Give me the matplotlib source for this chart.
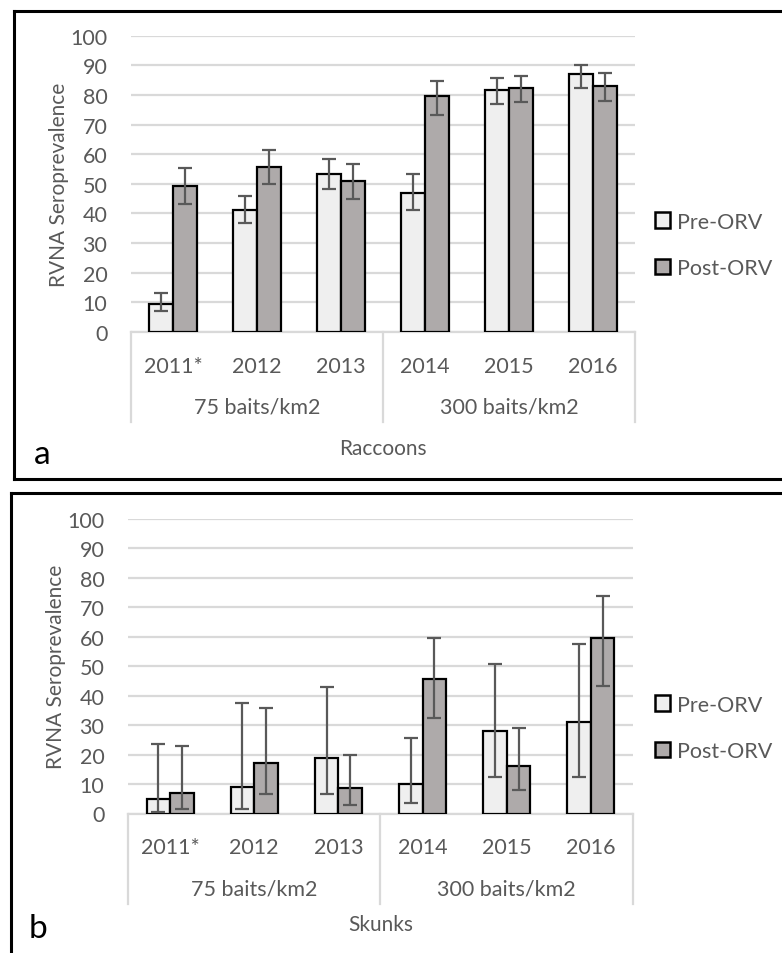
import matplotlib.pyplot as plt
from matplotlib.patches import Patch
from matplotlib.lines import Line2D

plt.rcParams['font.family'] = ['Lato', 'DejaVu Sans']

years = ['2011*', '2012', '2013', '2014', '2015', '2016']
groups = ['75 baits/km2', '300 baits/km2']
series = ['Pre-ORV', 'Post-ORV']

# Raccoons: value, lower error end, upper error end
rac_pre = [9.5, 41.2, 53.3, 47.0, 81.6, 87.0]
rac_pre_lo = [7.0, 36.8, 48.3, 41.2, 76.9, 82.5]
rac_pre_hi = [13.0, 45.9, 58.3, 53.2, 85.6, 90.0]
rac_post = [49.3, 55.7, 50.9, 79.6, 82.3, 83.0]
rac_post_lo = [43.2, 49.9, 44.9, 73.1, 77.6, 77.8]
rac_post_hi = [55.4, 61.3, 56.7, 84.7, 86.3, 87.4]

# Skunks
sk_pre = [5.0, 9.0, 19.0, 10.0, 28.0, 31.0]
sk_pre_lo = [0.5, 1.5, 6.5, 3.5, 12.5, 12.5]
sk_pre_hi = [23.5, 37.6, 43.1, 25.5, 50.9, 57.7]
sk_post = [7.0, 17.0, 8.5, 45.8, 16.0, 59.6]
sk_post_lo = [1.5, 6.5, 3.0, 32.5, 8.0, 43.3]
sk_post_hi = [23.0, 35.8, 20.0, 59.6, 29.0, 73.9]

W, H = 782, 954
fig = plt.figure(figsize=(W / 100, H / 100), dpi=100)

PRE_C = '#efefef'
POST_C = '#aeaaaa'
TXT = '#595959'
GRID = '#d9d9d9'
FS = 15.5


def fx(px):
    return px / W


def fy(py):
    return 1 - py / H


def panel(ax_box, pre, pre_lo, pre_hi, post, post_lo, post_hi, title, letter, letter_xy, title_y, legend_y):
    l, r, top, bot = ax_box
    ax = fig.add_axes([fx(l), fy(bot), fx(r) - fx(l), fy(top) - fy(bot)])
    hpx = bot - top
    x = list(range(len(years)))
    w = 0.28
    xp = [i - w / 2 for i in x]
    xq = [i + w / 2 for i in x]
    ax.bar(xp, pre, w, color=PRE_C, edgecolor='black', linewidth=1.6, zorder=3, label=series[0])
    ax.bar(xq, post, w, color=POST_C, edgecolor='black', linewidth=1.6, zorder=3, label=series[1])
    ax.errorbar(xp, pre, yerr=[[p - lo for p, lo in zip(pre, pre_lo)], [hi - p for p, hi in zip(pre, pre_hi)]],
                fmt='none', ecolor='#595959', elinewidth=1.6, capsize=5, capthick=1.6, zorder=4)
    ax.errorbar(xq, post, yerr=[[p - lo for p, lo in zip(post, post_lo)], [hi - p for p, hi in zip(post, post_hi)]],
                fmt='none', ecolor='#595959', elinewidth=1.6, capsize=5, capthick=1.6, zorder=4)
    ax.set_xlim(-0.5, len(years) - 0.5)
    ax.set_ylim(0, 100)
    ax.set_yticks(range(0, 101, 10))
    ax.yaxis.grid(True, color=GRID, linewidth=1.6, zorder=0)
    ax.tick_params(axis='y', length=0, labelsize=FS, labelcolor=TXT, pad=17)
    ax.set_xticks([])
    for s in ['top', 'right', 'left']:
        ax.spines[s].set_visible(False)
    ax.spines['bottom'].set_color(GRID)
    ax.spines['bottom'].set_linewidth(1.6)
    ax.set_ylabel('RVNA Seroprevalence', fontsize=15, color=TXT, labelpad=1)

    tr = ax.get_xaxis_transform()
    # year labels
    for i, yr in enumerate(years):
        ax.text(i, -34 / hpx, yr, transform=tr, ha='center', va='center', fontsize=FS, color=TXT)
    # group labels and separators
    ax.text(1, -75 / hpx, groups[0], transform=tr, ha='center', va='center', fontsize=FS, color=TXT)
    ax.text(4, -75 / hpx, groups[1], transform=tr, ha='center', va='center', fontsize=FS, color=TXT)
    for xs in [-0.5, 2.5, 5.5]:
        ax.plot([xs, xs], [0, -90 / hpx], transform=tr, color=GRID, linewidth=1.6, clip_on=False)
    ax.text(2.5, -(title_y - bot) / hpx, title, transform=tr, ha='center', va='center', fontsize=15, color=TXT)

    handles = [Patch(facecolor=PRE_C, edgecolor='black', linewidth=1.8),
               Patch(facecolor=POST_C, edgecolor='black', linewidth=1.8)]
    ax.legend(handles, series, loc='center left', bbox_to_anchor=((655 - l) / (r - l), (bot - legend_y) / hpx),
              frameon=False, fontsize=FS, labelcolor=TXT, handlelength=0.7, handleheight=0.7,
              handletextpad=0.3, labelspacing=1.25, borderpad=0, borderaxespad=0)
    fig.text(fx(letter_xy[0]), fy(letter_xy[1]), letter, ha='center', va='center', fontsize=24, color='black')
    return ax


panel((131, 635, 36.7, 333), rac_pre, rac_pre_lo, rac_pre_hi, rac_post, rac_post_lo, rac_post_hi,
      'Raccoons', 'a', (42, 455), 449, 246)
panel((128, 633, 520, 814.5), sk_pre, sk_pre_lo, sk_pre_hi, sk_post, sk_post_lo, sk_post_hi,
      'Skunks', 'b', (38, 929), 925, 729)

# panel frames
lw = 2.2
fig.add_artist(Line2D([fx(14), fx(14)], [fy(12), fy(480)], color='black', linewidth=lw))
fig.add_artist(Line2D([fx(14), 1], [fy(12), fy(12)], color='black', linewidth=lw))
fig.add_artist(Line2D([fx(14), 1], [fy(480), fy(480)], color='black', linewidth=lw))
fig.add_artist(Line2D([fx(11), fx(11)], [fy(494), 0], color='black', linewidth=lw))
fig.add_artist(Line2D([fx(11), 1], [fy(494), fy(494)], color='black', linewidth=lw))

fig.savefig('out.png', dpi=100)
